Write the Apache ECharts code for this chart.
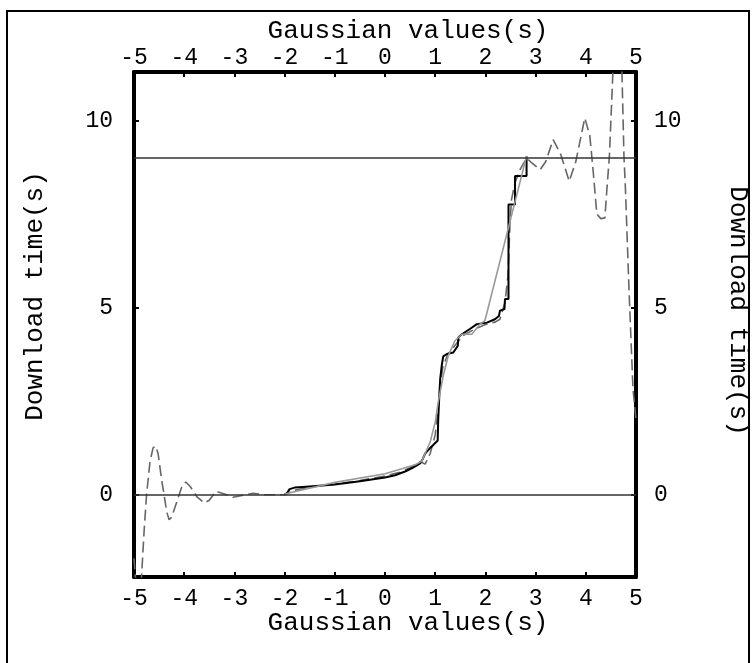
<!DOCTYPE html>
<html>
<head>
<meta charset="utf-8">
<script src="https://cdn.jsdelivr.net/npm/echarts@6/dist/echarts.min.js"></script>
<style>html,body{margin:0;padding:0;background:#fff}#c{width:753px;height:663px}</style>
</head>
<body>
<div id="c"></div>
<script>
// ---- data ----
const xTitle = 'Gaussian values(s)';
const yTitle = 'Download time(s)';
const yTickValues = [0, 5, 10];
const refLevels = [0, 9];

// measured download times (black stepped line) [x, y]
const measured = [
  [-2.0, 0.0], [-1.95, 0.05], [-1.9, 0.15], [-1.8, 0.19], [-1.5, 0.22], [-1.0, 0.27],
  [-0.5, 0.36], [0.0, 0.46], [0.2, 0.52], [0.4, 0.62], [0.55, 0.72], [0.7, 0.84],
  [0.75, 0.95], [0.8, 1.1], [0.9, 1.25], [1.05, 1.45], [1.06, 2.0], [1.08, 2.6],
  [1.1, 3.1], [1.13, 3.45], [1.16, 3.7], [1.23, 3.76], [1.36, 3.8], [1.45, 3.98],
  [1.46, 4.2], [1.53, 4.29], [1.69, 4.43], [1.83, 4.56], [2.03, 4.6], [2.19, 4.69],
  [2.27, 4.78], [2.29, 4.92], [2.38, 4.96], [2.39, 5.23], [2.46, 5.23], [2.46, 7.76],
  [2.59, 7.76], [2.59, 8.52], [2.82, 8.52], [2.82, 9.05]
];

// piecewise fit (gray solid line) [x, y]
const fitted = [
  [-2.0, 0.02], [-1.0, 0.33], [0.0, 0.56], [0.6, 0.8], [0.73, 0.89], [0.9, 1.41],
  [1.0, 1.94], [1.06, 2.47], [1.16, 3.18], [1.26, 3.71], [1.39, 4.11], [1.53, 4.29],
  [1.73, 4.29], [1.89, 4.56], [1.99, 4.65], [2.82, 9.05]
];

// interpolated curve (gray dashed line) [x, y]
const interpolated = [
  [-5.0, -1.7], [-4.96, -2.4], [-4.92, -2.9], [-4.88, -2.6], [-4.85, -2.2], [-4.8, -1.0],
  [-4.75, 0.0], [-4.68, 0.9], [-4.62, 1.25], [-4.57, 1.3], [-4.52, 1.1], [-4.45, 0.4],
  [-4.4, 0.0], [-4.35, -0.45], [-4.3, -0.67], [-4.25, -0.6], [-4.15, -0.2], [-4.05, 0.2],
  [-3.97, 0.34], [-3.88, 0.22], [-3.75, -0.05], [-3.6, -0.22], [-3.5, -0.15], [-3.37, 0.09],
  [-3.2, 0.02], [-3.03, -0.07], [-2.85, -0.02], [-2.63, 0.04], [-2.4, 0.0], [-2.0, 0.0],
  [-1.8, 0.12], [-1.5, 0.2], [-1.0, 0.28], [-0.5, 0.38], [0.0, 0.5], [0.3, 0.6],
  [0.5, 0.72], [0.7, 0.88], [0.8, 0.82], [0.9, 1.1], [1.0, 1.6], [1.05, 2.2],
  [1.1, 2.9], [1.15, 3.4], [1.25, 3.75], [1.4, 4.0], [1.55, 4.25], [1.75, 4.4],
  [2.0, 4.55], [2.2, 4.62], [2.29, 4.69], [2.39, 5.14], [2.45, 5.85], [2.49, 7.27],
  [2.52, 7.89], [2.59, 8.34], [2.69, 8.69], [2.82, 9.0], [2.9, 8.9], [3.09, 8.69],
  [3.2, 8.9], [3.35, 9.49], [3.5, 9.1], [3.67, 8.38], [3.8, 8.9], [3.98, 10.07],
  [4.08, 9.6], [4.15, 8.6], [4.22, 7.5], [4.3, 7.38], [4.38, 7.4], [4.42, 8.16],
  [4.47, 9.05], [4.54, 11.3], [4.6, 13.0], [4.63, 13.5], [4.68, 13.0], [4.72, 11.3],
  [4.76, 9.05], [4.79, 8.16], [4.86, 5.5], [4.94, 2.83], [5.0, 2.0]
];

const FONT = 'Liberation Mono';
const chart = echarts.init(document.getElementById('c'), null, {renderer: 'canvas'});

const axisLineStyle = {show: true, onZero: false, lineStyle: {color: '#000', width: 4}};
const tickStyle = {show: true, inside: true, length: 5, lineStyle: {color: '#000', width: 2}};
const labelStyle = {color: '#000', fontFamily: FONT, fontSize: 23};

chart.setOption({
  animation: false,
  backgroundColor: '#fff',
  grid: {left: 134, right: 117, top: 72, bottom: 86, show: false},
  xAxis: [
    {type: 'value', position: 'bottom', min: -5, max: 5, interval: 1,
     axisLine: axisLineStyle, axisTick: tickStyle, splitLine: {show: false},
     axisLabel: Object.assign({margin: 10}, labelStyle)},
    {type: 'value', position: 'top', min: -5, max: 5, interval: 1,
     axisLine: axisLineStyle, axisTick: tickStyle, splitLine: {show: false},
     axisLabel: Object.assign({margin: 3}, labelStyle)}
  ],
  yAxis: [
    {type: 'value', position: 'left', min: -2.2, max: 11.3,
     axisLine: axisLineStyle, splitLine: {show: false},
     axisTick: Object.assign({customValues: yTickValues}, tickStyle),
     axisLabel: Object.assign({margin: 21, customValues: yTickValues}, labelStyle)},
    {type: 'value', position: 'right', min: -2.2, max: 11.3,
     axisLine: axisLineStyle, splitLine: {show: false},
     axisTick: Object.assign({customValues: yTickValues}, tickStyle),
     axisLabel: Object.assign({margin: 18, customValues: yTickValues}, labelStyle)}
  ],
  series: [
    {type: 'line', data: interpolated, showSymbol: false, clip: true, z: 2,
     lineStyle: {color: '#666', width: 1.6, type: [11, 5]},
     markLine: {silent: true, symbol: 'none', label: {show: false},
       lineStyle: {color: '#333', width: 1.5, type: 'solid'},
       data: refLevels.map(v => ({yAxis: v}))}},
    {type: 'line', data: measured, showSymbol: false, clip: true, z: 3,
     lineStyle: {color: '#000', width: 2}},
    {type: 'line', data: fitted, showSymbol: false, clip: true, z: 4,
     lineStyle: {color: '#999', width: 1.6}}
  ],
  graphic: [
    {type: 'rect', shape: {x: 7, y: 11, width: 742, height: 680},
     style: {fill: null, stroke: '#000', lineWidth: 2}, silent: true, z: -1},
    {type: 'text', x: 408, y: 31,
     style: {text: xTitle, font: '26px "' + FONT + '"', fill: '#000', textAlign: 'center', textVerticalAlign: 'middle'}},
    {type: 'text', x: 408, y: 623,
     style: {text: xTitle, font: '26px "' + FONT + '"', fill: '#000', textAlign: 'center', textVerticalAlign: 'middle'}},
    {type: 'text', x: 35, y: 296, rotation: Math.PI / 2,
     style: {text: yTitle, font: '26px "' + FONT + '"', fill: '#000', textAlign: 'center', textVerticalAlign: 'middle'}},
    {type: 'text', x: 738, y: 311, rotation: -Math.PI / 2,
     style: {text: yTitle, font: '26px "' + FONT + '"', fill: '#000', textAlign: 'center', textVerticalAlign: 'middle'}}
  ]
});
</script>
</body>
</html>
